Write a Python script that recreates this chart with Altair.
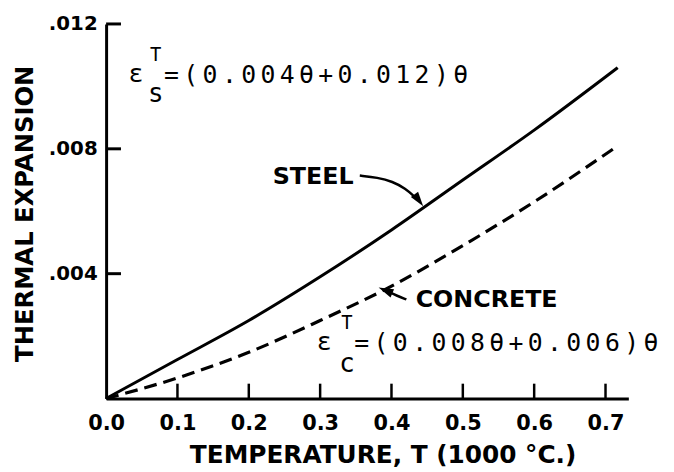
import math
import altair as alt
import pandas as pd

# ---------------- data ----------------
theta_steel = [0.0, 0.1, 0.2, 0.3, 0.4, 0.5, 0.6, 0.717]
strain_steel = [0.0, 0.00125, 0.0025, 0.0039, 0.0054, 0.0070, 0.0086, 0.0106]
theta_concrete = [0.0, 0.1, 0.2, 0.3, 0.4, 0.5, 0.6, 0.711]
strain_concrete = [0.0, 0.00066, 0.00148, 0.0025, 0.0036, 0.0049, 0.0063, 0.0080]
x_tick_values = [0.0, 0.1, 0.2, 0.3, 0.4, 0.5, 0.6, 0.7]
y_tick_values = [0.004, 0.008, 0.012]
formula_steel = ["=", "(", "0", ".", "0", "0", "4", "θ", "+", "0", ".", "0", "1", "2", ")", "θ"]
formula_concrete = ["=", "(", "0", ".", "0", "0", "8", "θ", "+", "0", ".", "0", "0", "6", ")", "θ"]

# ---------------- layout ----------------
W, H = 527, 378
X_MAX, Y_MAX = 0.732, 0.012
LEFT, TOP = 107, 22  # page position of plot origin


def to_x(px):
    return (px - LEFT) / W * X_MAX


def to_y(py):
    return (TOP + H - py) / H * Y_MAX


xs = alt.Scale(domain=[0, X_MAX], nice=False, zero=False)
ys = alt.Scale(domain=[0, Y_MAX], nice=False, zero=False)

LABEL_FONT = "DejaVu Sans"
MONO = "DejaVu Sans Mono"

x_axis = alt.Axis(
    values=x_tick_values, format=".1f", ticks=False, tickSize=0, grid=False,
    domainColor="black", domainWidth=3, labelFont=LABEL_FONT, labelFontSize=21,
    labelFontWeight="bold", labelColor="black", labelPadding=14, labelFlush=False,
    labelOverlap=False,
    title="TEMPERATURE, T  (1000 °C.)", titleFont=LABEL_FONT, titleFontSize=25,
    titleFontWeight="bold", titleColor="black", titleX=279, titleY=57,
    titleAlign="center", titleBaseline="middle", titleAnchor="middle",
)
y_axis = alt.Axis(
    values=y_tick_values, labelExpr="substring(format(datum.value, '.3f'), 1)",
    ticks=False, tickSize=0, grid=False, domainColor="black", domainWidth=3,
    labelFont=LABEL_FONT, labelFontSize=20, labelFontWeight="bold",
    labelColor="black", labelPadding=9, labelBaseline="middle",
    title="THERMAL EXPANSION", titleFont=LABEL_FONT, titleFontSize=24.5,
    titleFontWeight="bold", titleColor="black", titleAngle=270,
    titleX=-81, titleY=191, titleAlign="center", titleBaseline="middle",
)


def X(f):
    return alt.X(f, scale=xs, axis=x_axis)


def Y(f):
    return alt.Y(f, scale=ys, axis=y_axis)


steel_df = pd.DataFrame({"t": theta_steel, "e": strain_steel})
conc_df = pd.DataFrame({"t": theta_concrete, "e": strain_concrete})

steel = alt.Chart(steel_df).mark_line(
    color="black", strokeWidth=3, interpolate="monotone"
).encode(x=X("t:Q"), y=Y("e:Q"))

concrete = alt.Chart(conc_df).mark_line(
    color="black", strokeWidth=3.2, strokeDash=[13, 7], interpolate="monotone"
).encode(x=X("t:Q"), y=Y("e:Q"))

# inward ticks
xt = alt.Chart(pd.DataFrame({"t": x_tick_values[1:]})).mark_rule(
    color="black", strokeWidth=2.5
).encode(x=X("t:Q"), y=alt.value(H), y2=alt.value(H - 15))
yt = alt.Chart(pd.DataFrame({"e": y_tick_values})).mark_rule(
    color="black", strokeWidth=3
).encode(y=Y("e:Q"), x=alt.value(0), x2=alt.value(15))

# formulas (typewriter text, uniform pitch)
PITCH = 19.45
rows = []
rows.append(("ε", 137, 73, 25))
rows.append(("T", 157, 53, 19))
rows.append(("s", 157, 93, 26))
for i, ch in enumerate(formula_steel):
    rows.append((ch, 173 + i * PITCH, 74, 25))
rows.append(("ε", 327, 343, 25))
rows.append(("T", 350, 324, 19))
rows.append(("c", 350, 365, 26))
for i, ch in enumerate(formula_concrete):
    rows.append((ch, 365 + i * PITCH, 344, 25))
fdf = pd.DataFrame([{"t": to_x(r[1]), "e": to_y(r[2]), "c": r[0], "fs": r[3]} for r in rows])
formulas = alt.Chart(fdf).mark_text(
    font=MONO, color="black", align="center", baseline="middle"
).encode(x=X("t:Q"), y=Y("e:Q"), text="c:N", size=alt.Size("fs:Q", scale=None))

# curve labels
ldf = pd.DataFrame([
    {"c": "STEEL", "t": to_x(316), "e": to_y(176)},
    {"c": "CONCRETE", "t": to_x(491), "e": to_y(301)},
])
labels = alt.Chart(ldf).mark_text(
    font=LABEL_FONT, fontSize=24, fontWeight="bold", color="black",
    align="center", baseline="middle",
).encode(x=X("t:Q"), y=Y("e:Q"), text="c:N")

# arrows
shaft_rows = []
for name, pts in [
    ("s", [(363, 175), (381, 177), (396, 181), (409, 188), (419, 197)]),
    ("c", [(410, 300), (400, 296), (391, 292)]),
]:
    for i, (px, py) in enumerate(pts):
        shaft_rows.append({"a": name, "o": i, "t": to_x(px), "e": to_y(py)})
shafts = alt.Chart(pd.DataFrame(shaft_rows)).mark_line(
    color="black", strokeWidth=2.5, interpolate="basis"
).encode(x=X("t:Q"), y=Y("e:Q"), detail="a:N", order="o:Q")

HEAD_LEN = 15
heads = []
for tip, frm in [((427, 206), (419, 195)), ((382, 288), (410, 300))]:
    dxp, dyp = tip[0] - frm[0], tip[1] - frm[1]
    n = math.hypot(dxp, dyp)
    ux, uy = dxp / n, dyp / n
    cx, cy = tip[0] - ux * HEAD_LEN / 2, tip[1] - uy * HEAD_LEN / 2
    ang = math.degrees(math.atan2(dxp, -dyp)) % 360
    heads.append({"t": to_x(cx), "e": to_y(cy), "ang": ang})
arrowheads = alt.Chart(pd.DataFrame(heads)).mark_point(
    shape="M0,-1L0.6,1L-0.6,1Z", filled=True, color="black", opacity=1,
    size=HEAD_LEN ** 2, strokeWidth=0,
).encode(x=X("t:Q"), y=Y("e:Q"), angle=alt.Angle("ang:Q", scale=None))

chart = alt.layer(steel, concrete, xt, yt, formulas, labels, shafts, arrowheads).properties(
    width=W, height=H,
    autosize=alt.AutoSizeParams(type="none"),
    padding={"left": LEFT - 8, "top": TOP - 8, "right": 38, "bottom": 70},
    background="white",
).configure_view(stroke=None)

chart.save("out.html", embed_options={"renderer": "svg", "actions": False})
